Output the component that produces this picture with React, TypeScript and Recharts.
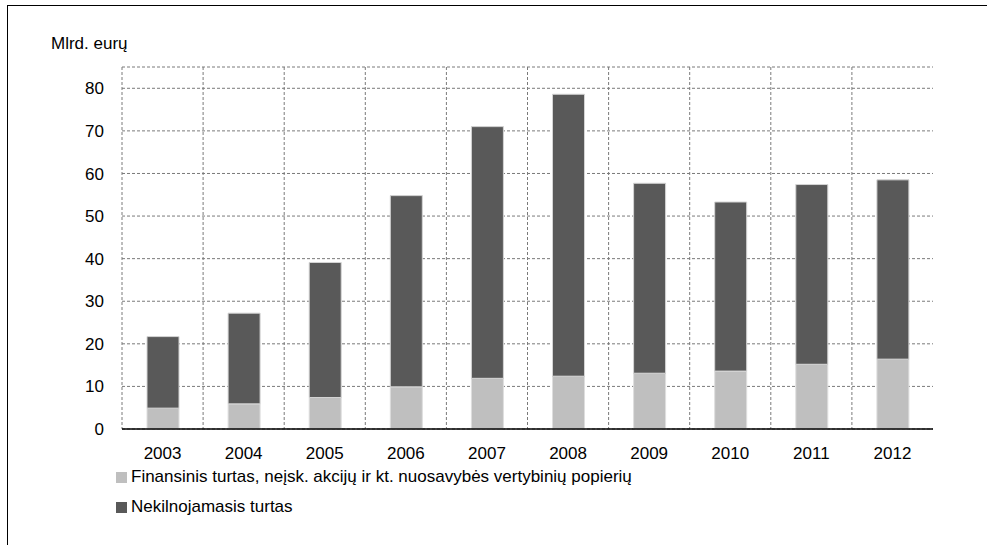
import React from 'react';
import {
  BarChart,
  Bar,
  XAxis,
  YAxis,
  CartesianGrid,
  Legend,
  ReferenceLine,
} from 'recharts';

// Years on the category axis
const years = ['2003', '2004', '2005', '2006', '2007', '2008', '2009', '2010', '2011', '2012'];

// Financial assets excluding shares and other equity (bn EUR)
const financial = [4.9, 5.9, 7.4, 9.9, 11.9, 12.4, 13.1, 13.6, 15.2, 16.4];

// Real estate (bn EUR), stacked on top of financial assets
const realEstate = [16.8, 21.3, 31.7, 44.9, 59.1, 66.2, 44.6, 39.7, 42.2, 42.1];

const yTicks = [0, 10, 20, 30, 40, 50, 60, 70, 80];

const seriesNames = {
  financial: 'Finansinis turtas, neįsk. akcijų ir kt. nuosavybės vertybinių popierių',
  realEstate: 'Nekilnojamasis turtas',
};

const unitLabel = 'Mlrd. eurų';

const data = years.map((year, i) => ({
  year,
  financial: financial[i],
  realEstate: realEstate[i],
}));

const FONT = '"Liberation Sans", Arial, sans-serif';
const LIGHT = '#bfbfbf';
const DARK = '#595959';

const LegendList = (props: any) => {
  const items = (props.payload || []) as any[];
  return (
    <div style={{ fontFamily: FONT, fontSize: 17, color: '#000' }}>
      {items.map((it) => (
        <div key={it.value} style={{ display: 'flex', alignItems: 'center', height: 30, whiteSpace: 'nowrap' }}>
          <span style={{ display: 'inline-block', width: 11, height: 11, background: it.color, marginRight: 4 }} />
          <span>{it.value}</span>
        </div>
      ))}
    </div>
  );
};

export default function App() {
  return (
    <div style={{ position: 'absolute', left: 0, top: 0, width: 987, height: 545, background: '#fff' }}>
      <div
        style={{
          position: 'absolute',
          left: 7,
          top: 5,
          width: 980,
          height: 540,
          borderTop: '1px solid #000',
          borderLeft: '1px solid #000',
          boxSizing: 'border-box',
        }}
      />
      <div
        style={{
          position: 'absolute',
          left: 51,
          top: 34,
          fontFamily: FONT,
          fontSize: 17,
          color: '#000',
          lineHeight: '20px',
        }}
      >
        {unitLabel}
      </div>
      <BarChart
        width={987}
        height={545}
        data={data}
        margin={{ top: 67, right: 54, left: 62, bottom: 86 }}
        style={{ position: 'absolute', left: 0, top: 0 }}
      >
        <CartesianGrid
          stroke="#7a7a7a"
          strokeDasharray="3 2"
          verticalCoordinatesGenerator={({ offset }: any) =>
            years.map((_, i) => offset.left + (i * offset.width) / years.length)
          }
        />
        <XAxis
          dataKey="year"
          tickLine={false}
          tickSize={0}
          tickMargin={18}
          axisLine={{ stroke: '#000', strokeWidth: 1.5 }}
          tick={{ fill: '#000', fontSize: 17, fontFamily: FONT }}
          height={30}
        />
        <XAxis xAxisId="top" orientation="top" dataKey="year" hide={false} tick={false} tickLine={false}
          axisLine={{ stroke: '#a6a6a6' }} height={0} />
        <YAxis
          domain={[0, 85]}
          ticks={yTicks}
          tickLine={false}
          tickSize={0}
          tickMargin={18}
          axisLine={false}
          width={60}
          interval={0}
          tick={{ fill: '#000', fontSize: 17, fontFamily: FONT }}
        />
        <YAxis yAxisId="right" orientation="right" domain={[0, 85]} tick={false} tickLine={false}
          axisLine={{ stroke: '#333' }} width={0} />
        <Bar
          dataKey="financial"
          name={seriesNames.financial}
          stackId="a"
          fill={LIGHT}
          stroke="#dedede"
          strokeWidth={1}
          barSize={32}
          isAnimationActive={false}
        />
        <Bar
          dataKey="realEstate"
          name={seriesNames.realEstate}
          stackId="a"
          fill={DARK}
          stroke="#d4d4d4"
          strokeWidth={1}
          barSize={32}
          isAnimationActive={false}
        />
        <Legend
          layout="horizontal"
          verticalAlign="bottom"
          align="left"
          content={LegendList}
          wrapperStyle={{ position: 'absolute', left: 116, top: 462, width: 700, height: 0, overflow: 'visible' }}
        />
      </BarChart>
    </div>
  );
}
